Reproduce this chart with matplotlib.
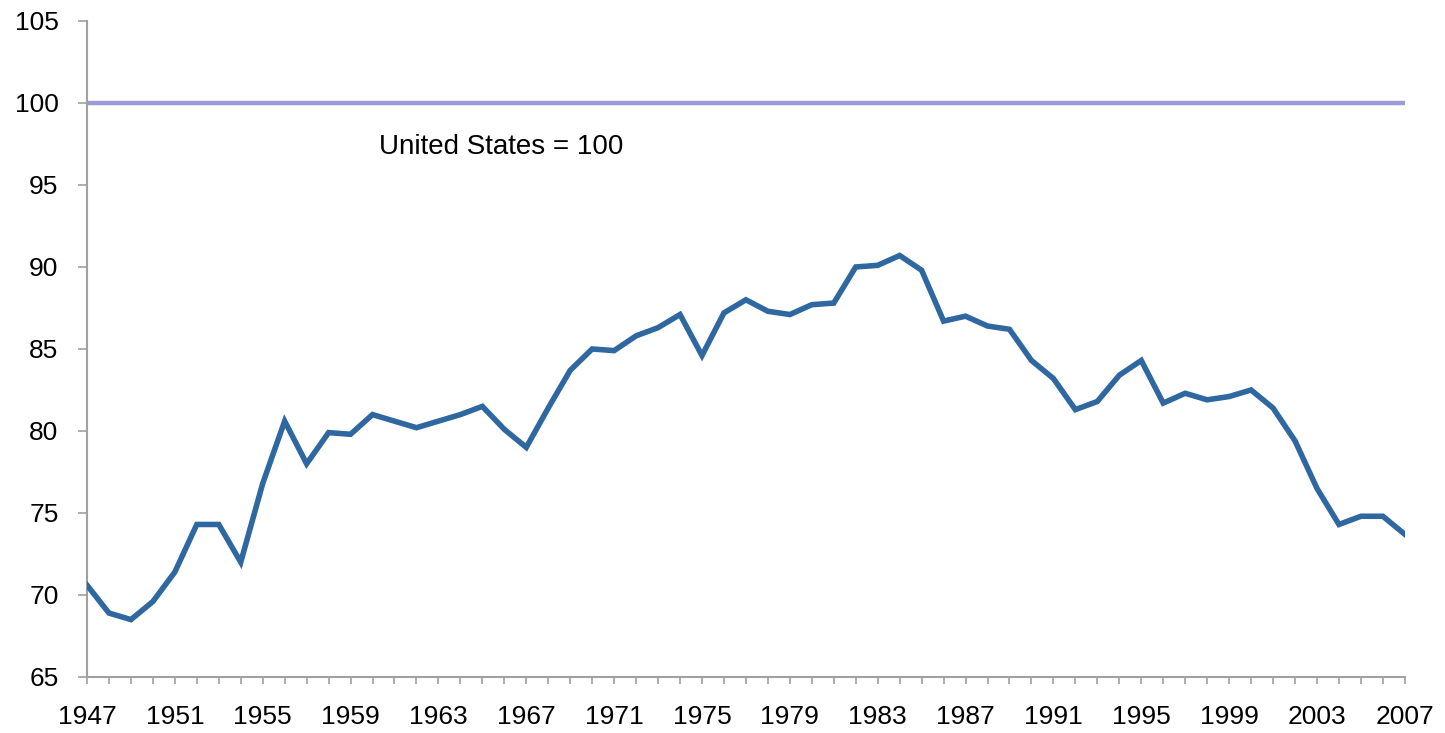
import numpy as np
from matplotlib import pyplot as plt

plt.rcParams['font.family'] = ['Liberation Sans', 'DejaVu Sans']

# years and index values (United States = 100)
years = np.arange(1947, 2008)
values = [
    70.6, 68.9, 68.5, 69.6, 71.4, 74.3, 74.3, 72.0, 76.8, 80.6,
    78.0, 79.9, 79.8, 81.0, 80.6, 80.2, 80.6, 81.0, 81.5, 80.1,
    79.0, 81.4, 83.7, 85.0, 84.9, 85.8, 86.3, 87.1, 84.6, 87.2,
    88.0, 87.3, 87.1, 87.7, 87.8, 90.0, 90.1, 90.7, 89.8, 86.7,
    87.0, 86.4, 86.2, 84.3, 83.2, 81.3, 81.8, 83.4, 84.3, 81.7,
    82.3, 81.9, 82.1, 82.5, 81.4, 79.4, 76.5, 74.3, 74.8, 74.8,
    73.7,
]
us_level = 100
xticks = np.arange(1947, 2008, 4)
yticks = np.arange(65, 106, 5)

fig = plt.figure(figsize=(14.45, 7.33), dpi=100)
ax = fig.add_axes([0.0602, 0.0764, 0.912, 0.895])

ax.axhline(us_level, color='#9a9bd8', linewidth=3.2, zorder=2)
ax.plot(years, values, color='#2f67a0', linewidth=4.0, zorder=3,
        solid_joinstyle='miter')
ax.text(1960.3, 97.3, "United States = 100", fontsize=20, va='center', ha='left')

ax.set_xlim(1947, 2007)
ax.set_ylim(65, 105)
ax.set_xticks(xticks)
ax.set_xticks(years, minor=True)
ax.set_yticks(yticks)

for side in ['top', 'right']:
    ax.spines[side].set_visible(False)
for side in ['left', 'bottom']:
    ax.spines[side].set_color('#a0a0a0')
    ax.spines[side].set_linewidth(1.5)

ax.tick_params(axis='both', which='both', color='#a0a0a0', width=1.2,
               labelsize=19, direction='out')
ax.tick_params(axis='y', length=6.5, pad=14)
ax.tick_params(axis='x', which='both', length=5, pad=15)

plt.savefig("out.png", dpi=100)
